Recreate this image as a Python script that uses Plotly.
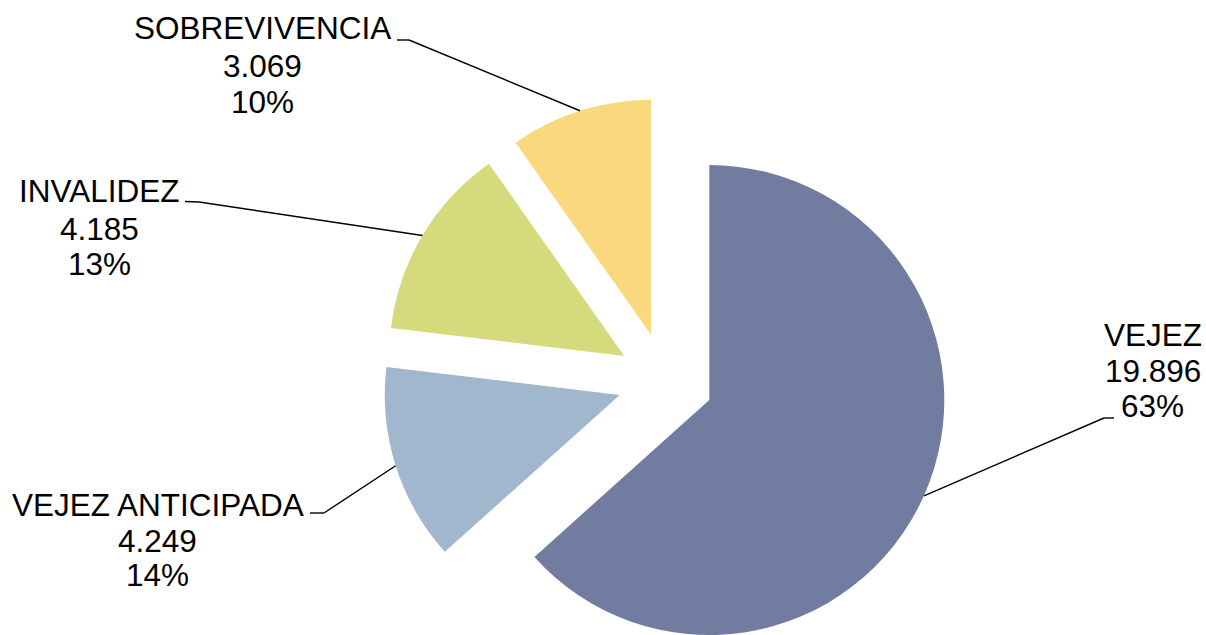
import math
import plotly.graph_objects as go

# ---- data ----
categories = ["VEJEZ", "VEJEZ ANTICIPADA", "INVALIDEZ", "SOBREVIVENCIA"]
values = [19896, 4249, 4185, 3069]
value_labels = ["19.896", "4.249", "4.185", "3.069"]
percent_labels = ["63%", "14%", "13%", "10%"]

# ---- style / layout ----
colors = ["#727CA1", "#A1B7CD", "#D5DB7D", "#FAD87E"]
W, H = 1206, 635
CX, CY = 665.5, 380.5      # pie centre (px, from top-left)
R = 235                    # slice radius (px)
PULL = 48                  # explode distance (px)
FONT = dict(family="Liberation Sans, Arial, sans-serif", size=31.5, color="#000000")

# label centre x and the three line centres y (px)
label_x = [1152.5, 158, 99, 262]
label_lines_y = [(334.5, 371, 406), (504.5, 541, 575), (191, 229, 264), (28, 66, 102.5)]
leader_start = [(1114, 418), (310, 513), (185, 201.5), (397, 40)]
leader_elbow = [(1104, 418), (324, 513), (199, 202), (409, 40)]

total = sum(values)
fig = go.Figure()
shapes = []
annotations = []
cum = 0.0
for i, v in enumerate(values):
    frac = v / total
    mid = 2 * math.pi * (cum + frac / 2)
    cum += frac
    dx, dy = math.sin(mid), -math.cos(mid)   # screen direction (y down)
    ax, ay = CX + PULL * dx, CY + PULL * dy  # apex of exploded slice
    x0 = max(0.0, (ax - R) / W)
    x1 = min(1.0, (ax + R) / W)
    y0 = max(0.0, (H - ay - R) / H)
    y1 = min(1.0, (H - ay + R) / H)
    slice_colors = [colors[j] if j == i else "rgba(0,0,0,0)" for j in range(len(values))]
    fig.add_trace(go.Pie(
        labels=categories, values=values, sort=False, direction="clockwise",
        rotation=0, textinfo="none", showlegend=False,
        marker=dict(colors=slice_colors, line=dict(width=0)),
        domain=dict(x=[x0, x1], y=[y0, y1]),
        hoverinfo="label+value+percent",
    ))
    # leader line to arc midpoint
    ex, ey = CX + (PULL + R) * dx, CY + (PULL + R) * dy
    sx, sy = leader_start[i]
    kx, ky = leader_elbow[i]
    for (a, b), (c, d) in [((sx, sy), (kx, ky)), ((kx, ky), (ex, ey))]:
        shapes.append(dict(type="line", xref="paper", yref="paper",
                           x0=a / W, y0=1 - b / H, x1=c / W, y1=1 - d / H,
                           line=dict(color="#000000", width=1.4)))
    texts = [categories[i], value_labels[i], percent_labels[i]]
    for t, ly in zip(texts, label_lines_y[i]):
        annotations.append(dict(
            text=t, x=label_x[i] / W, y=1 - ly / H, xref="paper", yref="paper",
            xanchor="center", yanchor="middle", showarrow=False, align="center",
            font=FONT,
        ))

fig.update_layout(
    width=W, height=H, autosize=False,
    margin=dict(l=0, r=0, t=0, b=0),
    paper_bgcolor="white", plot_bgcolor="white",
    shapes=shapes, annotations=annotations,
)
fig.write_html("out.html", config={"displayModeBar": False},
               post_script="document.body.style.margin='0';")
